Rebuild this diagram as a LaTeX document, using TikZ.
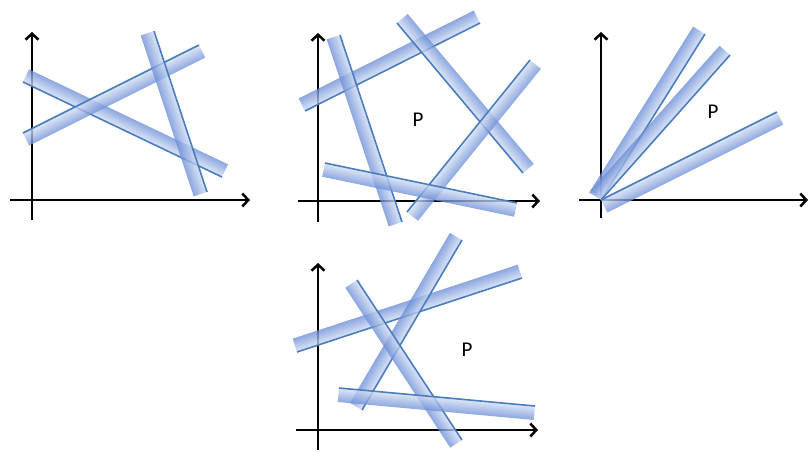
\documentclass[tikz,border=0pt]{standalone}
\usepackage{fontspec}
\setmainfont{Carlito}
\usepackage{xcolor}
\usetikzlibrary{arrows.meta}
\definecolor{bandfar}{RGB}{108,142,214}
\definecolor{bandnear}{RGB}{212,223,244}
\definecolor{lineblue}{RGB}{74,125,190}
% a constraint line from (#1,#2) to (#3,#4), its band on side #5 (1 left, -1 right)
\newcommand{\halfplane}[5]{%
  \pgfmathsetmacro{\hpang}{atan2(-(#4-#2),#3-#1)}%
  \pgfmathsetmacro{\hplen}{veclen(#3-#1,#4-#2)}%
  \begin{scope}[transform canvas={shift={(#1pt,-#2pt)},rotate=\hpang,yscale=#5}]
    \shade[top color=bandfar, bottom color=bandnear, fill opacity=0.78]
      (0pt,0pt) rectangle (\hplen pt,14pt);
    \draw[lineblue, line width=1.6pt] (0pt,0pt) -- (\hplen pt,0pt);
  \end{scope}}

\begin{document}
\begin{tikzpicture}[x=1pt, y=-1pt,
    axis/.style={line width=2.5pt, -{Straight Barb[length=6pt,width=13pt]}},
    label/.style={font=\fontsize{21}{21}\selectfont}]
  \useasboundingbox (0,0) rectangle (810,451);
  % the axes of the four panels
  \draw[axis] (32,220) -- (32,32);
  \draw[axis] (10,200) -- (250,200);
  \draw[axis] (318,222) -- (318,33);
  \draw[axis] (298,201) -- (540,201);
  \draw[axis] (601,218) -- (601,32);
  \draw[axis] (579,200) -- (808,200);
  \draw[axis] (318,450) -- (318,263);
  \draw[axis] (296,430) -- (538,430);
  % panel 1: three constraints, no feasible region marked
  \halfplane{23}{82}{222}{177}{1}
  \halfplane{23}{133}{199}{45}{-1}
  \halfplane{154}{31}{207}{192}{-1}
  % panel 2: a bounded region P
  \halfplane{305}{111}{480}{23}{1}
  \halfplane{340}{35}{402}{222}{-1}
  \halfplane{397}{23}{523}{173}{1}
  \halfplane{407}{212}{530}{60}{-1}
  \halfplane{325}{163}{517}{203}{-1}
  \node[label] (p2) at (418,120) {P};
  % panel 3: rays from the origin
  \halfplane{601}{200}{705}{34}{1}
  \halfplane{601}{200}{730}{55}{1}
  \halfplane{601}{200}{777}{112}{-1}
  \node[label] (p3) at (713,112) {P};
  % panel 4: an unbounded region P
  \halfplane{297}{352}{522}{278}{1}
  \halfplane{362}{410}{462}{240}{1}
  \halfplane{357}{280}{462}{440}{-1}
  \halfplane{339}{388}{535}{406}{-1}
  \node[label] (p4) at (467,350) {P};
\end{tikzpicture}
\end{document}
